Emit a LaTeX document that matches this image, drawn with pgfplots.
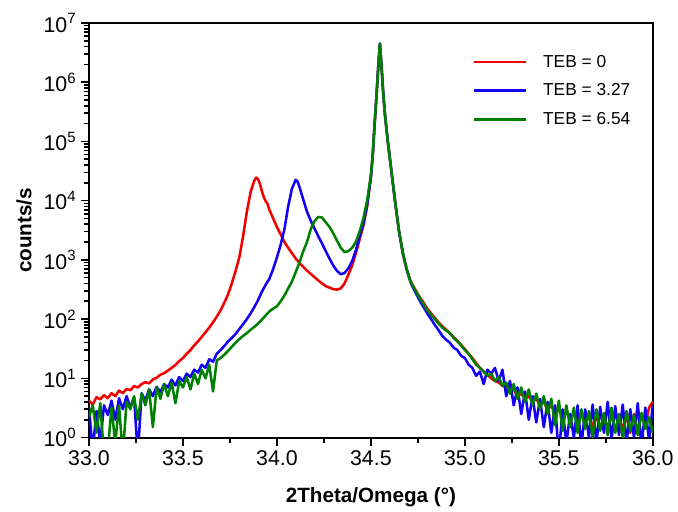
\documentclass[border=0pt]{standalone}
\usepackage{pgfplots}
\pgfplotsset{compat=1.18}
\usepackage{fontspec}
\setmainfont{Liberation Sans}
\definecolor{cred}{RGB}{245,0,0}
\definecolor{cblue}{RGB}{20,0,245}
\definecolor{cgreen}{RGB}{0,128,0}
\begin{document}
\begin{tikzpicture}
\begin{axis}[
  scale only axis, width=423pt, height=311pt,
  xmin=33, xmax=36, ymin=1, ymax=1e7, ymode=log,
  axis line style={line width=1.5pt},
  tick pos=left, tick align=outside,
  major tick length=6pt, minor tick length=4pt,
  every tick/.style={black, line width=1.2pt},
  xtick={33,33.5,34,34.5,35,35.5,36},
  minor xtick={33.25,33.75,34.25,34.75,35.25,35.75},
  xticklabel style={/pgf/number format/.cd, fixed, fixed zerofill, precision=1, assume math mode=true},
  ytick={1,10,100,1000,10000,100000,1000000,10000000},
  yticklabels={10\textsuperscript{0},10\textsuperscript{1},10\textsuperscript{2},10\textsuperscript{3},10\textsuperscript{4},10\textsuperscript{5},10\textsuperscript{6},10\textsuperscript{7}},
  minor ytick={2,3,4,5,6,7,8,9,20,30,40,50,60,70,80,90,200,300,400,500,600,700,800,900,2000,3000,4000,5000,6000,7000,8000,9000,2e4,3e4,4e4,5e4,6e4,7e4,8e4,9e4,2e5,3e5,4e5,5e5,6e5,7e5,8e5,9e5,2e6,3e6,4e6,5e6,6e6,7e6,8e6,9e6},
  ticklabel style={font=\fontsize{16}{18}\selectfont},
  xlabel={\bfseries 2Theta/Omega (°)},
  ylabel={\bfseries counts/s},
  label style={font=\fontsize{15.5}{18}\selectfont},
  xlabel style={yshift=-10pt},
  ylabel style={yshift=2pt},
  legend style={draw=none, fill=none, at={(0.68,0.93)}, anchor=north west,
    font=\fontsize{13}{15}\selectfont, row sep=7pt, column sep=10pt, inner sep=0pt},
  legend cell align=left,
  legend image code/.code={\draw[#1, line width=1.9pt] (0pt,0pt) -- (39pt,0pt);},
  every axis plot/.append style={line width=1.9pt, line join=round},
]
\addplot[cred] table {
x y
33.00 4.2
33.02 3.6
33.04 4.8
33.06 4.4
33.08 5.2
33.10 4.6
33.12 5.6
33.14 5.0
33.16 6.2
33.18 5.6
33.20 6.6
33.22 6.3
33.24 7.4
33.26 7.0
33.28 8.0
33.30 8.6
33.32 8.2
33.34 9.6
33.36 10.2
33.38 11.5
33.40 12.2
33.42 13.5
33.44 15.0
33.46 16.8
33.48 19.5
33.50 22
33.52 26
33.54 30
33.56 36
33.58 42
33.60 50
33.62 60
33.64 72
33.66 88
33.68 110
33.70 140
33.72 190
33.74 260
33.76 400
33.78 650
33.80 1100
33.82 2500
33.84 6500
33.86 14000
33.88 22000
33.89 24500
33.90 23000
33.91 19000
33.92 14500
33.93 11500
33.94 9800
33.95 8800
33.96 7000
33.98 5000
34.00 3600
34.02 2700
34.04 2000
34.06 1600
34.08 1300
34.10 1050
34.12 890
34.14 760
34.16 660
34.18 580
34.20 510
34.22 450
34.24 400
34.26 360
34.28 340
34.30 320
34.32 315
34.34 330
34.36 400
34.38 560
34.40 800
34.42 1300
34.44 2200
34.46 3800
34.48 8000
34.50 25000
34.51 60000
34.52 200000
34.53 600000
34.54 2000000
34.548 4500000
34.556 2000000
34.565 700000
34.575 280000
34.59 100000
34.61 30000
34.63 9000
34.65 3000
34.67 1300
34.69 700
34.71 450
34.72 390
34.74 300
34.76 235
34.78 190
34.80 150
34.82 125
34.84 105
34.86 88
34.88 76
34.90 66
34.92 58
34.94 50
34.96 43
34.98 37
35.00 31
35.02 26
35.04 22
35.06 18
35.08 15
35.10 13
35.12 11.5
35.14 10
35.16 9
35.18 8.5
35.20 7.5
35.22 7
35.24 6
35.26 6.5
35.28 5
35.30 5.5
35.32 4.5
35.34 5
35.36 4
35.38 4.5
35.40 3.5
35.42 4
35.44 3
35.46 3.5
35.48 2.5
35.50 3
35.52 2.2
35.54 2.8
35.56 2
35.58 2.6
35.60 1.8
35.62 2.5
35.64 1.6
35.66 2.4
35.68 1.5
35.70 2.3
35.72 1.4
35.74 2.2
35.76 1.5
35.78 2.4
35.80 1.3
35.82 2.2
35.84 1.4
35.86 2.3
35.88 1.2
35.90 2.5
35.92 1.3
35.94 2.4
35.96 1.6
35.98 3.2
36.00 4.0
};
\addlegendentry{TEB = 0}
\addplot[cblue] table {
x y
33.00 3.2
33.02 0.6
33.04 2.8
33.06 0.8
33.08 3.5
33.10 2.4
33.12 4.2
33.14 2.0
33.16 4.6
33.18 3.0
33.20 5.0
33.22 3.2
33.24 4.8
33.26 0.5
33.28 5.6
33.30 4.2
33.32 6.5
33.34 5.0
33.36 7.2
33.38 5.8
33.40 8.0
33.42 7.0
33.44 9.5
33.46 7.6
33.48 10.5
33.50 9.0
33.52 12
33.54 10.5
33.56 14
33.58 12.5
33.60 17
33.62 15
33.64 21
33.66 19
33.68 26
33.70 30
33.72 35
33.74 42
33.76 48
33.78 56
33.80 68
33.82 82
33.84 100
33.86 125
33.88 160
33.90 210
33.92 290
33.94 380
33.96 480
33.98 700
34.00 1100
34.02 1800
34.04 3300
34.06 8000
34.08 16000
34.10 22500
34.11 21000
34.12 17000
34.14 10500
34.16 6500
34.18 4600
34.20 3400
34.22 2500
34.24 1900
34.26 1400
34.28 1050
34.30 800
34.32 650
34.34 570
34.36 600
34.38 720
34.40 950
34.42 1450
34.44 2500
34.46 4000
34.48 8500
34.50 25000
34.51 60000
34.52 200000
34.53 600000
34.54 2000000
34.548 4500000
34.556 2000000
34.565 700000
34.575 280000
34.59 100000
34.61 30000
34.63 9000
34.65 3000
34.67 1300
34.69 700
34.71 430
34.72 360
34.74 270
34.76 205
34.78 160
34.80 125
34.82 100
34.84 80
34.86 65
34.88 52
34.90 45
34.92 40
34.94 33
34.96 30
34.98 24
35.00 22
35.02 17
35.04 15
35.06 11
35.08 13
35.10 8
35.12 14
35.14 12
35.16 15
35.18 9
35.20 14
35.22 5
35.24 9
35.26 3.5
35.28 7
35.30 2.5
35.32 6
35.34 2.0
35.36 5
35.38 1.8
35.40 4.5
35.42 1.5
35.44 4.0
35.46 1.2
35.48 3.5
35.50 0.5
35.52 3.0
35.54 0.8
35.56 2.5
35.58 1.0
35.60 3.5
35.62 0.7
35.64 3.0
35.66 1.0
35.68 3.6
35.70 0.8
35.72 3.3
35.74 1.2
35.76 4.0
35.78 0.9
35.80 3.4
35.82 1.1
35.84 3.6
35.86 0.8
35.88 3.0
35.90 1.0
35.92 3.8
35.94 0.7
35.96 3.2
35.98 0.9
36.00 3.5
};
\addlegendentry{TEB = 3.27}
\addplot[cgreen] table {
x y
33.00 2.2
33.02 3.5
33.04 1.2
33.06 3.8
33.08 0.5
33.10 0.6
33.12 3.2
33.14 0.8
33.16 3.5
33.18 0.5
33.20 4.0
33.22 3.0
33.24 5.0
33.26 2.0
33.28 5.5
33.30 3.5
33.32 6.5
33.34 1.5
33.36 7.0
33.38 4.5
33.40 8.0
33.42 5.0
33.44 8.5
33.46 3.8
33.48 9.0
33.50 7.0
33.52 10.5
33.54 6.5
33.56 12
33.58 8.0
33.60 14
33.62 10
33.64 17
33.66 6.0
33.68 20
33.70 22
33.72 25
33.74 29
33.76 34
33.78 40
33.80 46
33.82 52
33.84 58
33.86 66
33.88 74
33.90 84
33.92 98
33.94 115
33.96 135
33.98 150
34.00 165
34.02 200
34.04 250
34.06 330
34.08 430
34.10 620
34.12 900
34.14 1400
34.16 2000
34.18 3300
34.20 4500
34.22 5300
34.24 5200
34.26 4300
34.28 3600
34.30 2800
34.32 2100
34.34 1600
34.36 1350
34.38 1400
34.40 1600
34.42 2000
34.44 3000
34.46 5000
34.48 10000
34.50 27000
34.51 60000
34.52 200000
34.53 600000
34.54 2000000
34.548 4500000
34.556 2000000
34.565 700000
34.575 280000
34.59 100000
34.61 30000
34.63 9000
34.65 3000
34.67 1300
34.69 700
34.71 440
34.72 380
34.74 290
34.76 225
34.78 180
34.80 140
34.82 118
34.84 100
34.86 84
34.88 72
34.90 64
34.92 58
34.94 48
34.96 42
34.98 36
35.00 30
35.02 26
35.04 21
35.06 17
35.08 15
35.10 13
35.12 11
35.14 12
35.16 9
35.18 10.5
35.20 7.5
35.22 8.5
35.24 5.5
35.26 8.0
35.28 4.5
35.30 7.0
35.32 4.0
35.34 6.5
35.36 3.5
35.38 5.5
35.40 3.0
35.42 5.0
35.44 2.5
35.46 4.5
35.48 1.6
35.50 4.2
35.52 1.3
35.54 3.5
35.56 1.5
35.58 3.2
35.60 1.2
35.62 3.0
35.64 1.4
35.66 2.8
35.68 1.0
35.70 3.0
35.72 1.3
35.74 2.6
35.76 1.1
35.78 3.2
35.80 1.2
35.82 2.5
35.84 1.0
35.86 2.8
35.88 1.3
35.90 2.4
35.92 1.1
35.94 2.6
35.96 1.4
35.98 2.2
36.00 1.2
};
\addlegendentry{TEB = 6.54}
\end{axis}
\path (current axis.south west) ++(-66.75pt,-52.5pt) coordinate (bbA);
\path (current axis.north east) ++(18.75pt,17.25pt) coordinate (bbB);
\path (bbA) rectangle (bbB);
\end{tikzpicture}
\end{document}
